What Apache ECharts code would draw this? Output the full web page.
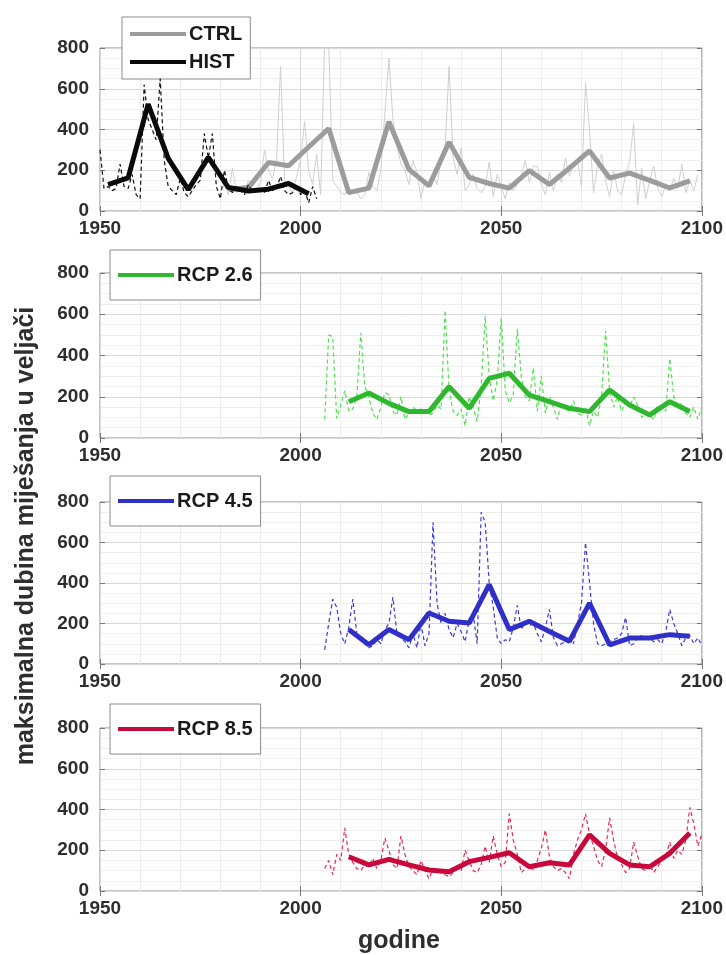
<!DOCTYPE html>
<html>
<head>
<meta charset="utf-8">
<script src="https://cdn.jsdelivr.net/npm/echarts@6/dist/echarts.min.js"></script>
<style>
html,body{margin:0;padding:0;background:#fff;}
#chart{width:726px;height:955px;}
</style>
</head>
<body>
<div id="chart"></div>
<script>
// ---------- DATA ----------
const xTicks = [1950, 2000, 2050, 2100];
const yTicks = [0, 200, 400, 600, 800];

// annual values (thin lines)
const histStart = 1950;
const histAnnual = [300,110,120,100,110,230,120,110,180,80,
  60,620,450,400,350,650,250,120,100,80,
  160,90,70,100,130,150,380,260,380,120,
  60,200,110,90,120,100,80,130,90,100,
  110,90,150,100,110,170,100,80,90,130,
  80,100,40,120,60];

const ctrlStart = 1980;
const ctrlAnnual = [100,130,80,210,90, 120,100,150,90,110,
  140,300,200,160,250, 710,150,120,90,170,
  250,440,200,130,280, 80,850,820,150,120,
  90,80,110,100,90, 60,80,190,120,100,
  200,480,750,450,320, 230,200,130,250,190,
  60,150,120,170,130, 250,310,710,260,180,
  310,100,130,180,110, 90,120,240,70,180,
  120,60,140,100,130, 170,250,140,220,220,
  130,80,190,100,180, 140,260,170,230,250,
  120,630,400,90,220, 280,150,70,200,100,
  80,180,240,430,30, 210,60,150,220,110,
  70,130,100,160,110, 230,90,150,100,180];

const rcpStart = 2006;
const rcp26Annual = [90,500,490,95,160, 230,130,140,200,510,
  250,200,120,90,150, 220,210,130,110,200,
  90,120,150,130,140, 130,110,120,160,140,
  620,230,130,110,140, 60,200,150,80,250,
  590,300,180,280,580, 230,170,210,530,300,
  200,180,340,130,300, 120,200,150,90,170,
  140,130,180,120,110, 150,60,130,100,200,
  520,230,150,200,130, 180,150,200,160,100,
  120,110,90,160,150, 130,385,200,150,170,
  120,100,150,90,150];
const rcp45Annual = [70,200,320,280,150, 100,180,320,150,130,
  100,80,90,120,100, 170,200,330,150,130,
  110,80,150,80,200, 90,150,700,300,200,
  250,170,130,200,160, 110,220,250,100,750,
  700,400,280,130,100, 120,110,180,290,170,
  210,190,200,150,110, 180,270,130,90,100,
  110,140,100,200,300, 600,400,200,100,90,
  100,110,120,130,150, 230,90,100,130,140,
  120,130,110,120,100, 160,270,200,150,90,
  130,140,100,130,90];
const rcp85Annual = [110,150,80,180,150, 310,180,140,110,100,
  130,120,160,110,150, 260,200,130,110,270,
  180,120,100,80,150, 100,60,110,100,90,
  80,70,90,110,100, 200,150,100,90,130,
  220,140,270,180,120, 140,380,250,180,90,
  110,130,100,150,210, 300,170,120,100,110,
  90,60,180,250,300, 380,280,220,150,120,
  200,360,250,160,130, 90,110,240,170,110,
  100,130,90,120,150, 170,240,160,200,180,
  250,410,330,220,280];

// 5-year means (thick lines)
const histMeanYears = [1952,1957,1962,1967,1972,1977,1982,1987,1992,1997,2002];
const histMean = [130,162,525,258,105,263,115,98,107,135,85];

const ctrlMeanYears = [1982,1987,1992,1997,2002,2007,2012,2017,2022,2027,2032,2037,
  2042,2047,2052,2057,2062,2067,2072,2077,2082,2087,2092,2097];
const ctrlMean = [105,115,238,222,314,405,90,112,438,204,123,338,
  165,135,112,198,130,210,295,162,186,150,113,148];

const rcpMeanYears = [2012,2017,2022,2027,2032,2037,2042,2047,2052,2057,2062,2067,
  2072,2077,2082,2087,2092,2097];
const rcp26Mean = [176,218,168,128,128,249,144,289,314,208,176,144,128,233,160,112,176,128];
const rcp45Mean = [170,95,170,120,252,211,202,392,170,211,161,112,301,95,128,128,145,137];
const rcp85Mean = [168,128,155,128,103,95,144,165,188,119,139,128,275,185,128,119,185,285];

// ---------- CHART ----------
const FONT = '"Liberation Sans", Arial, sans-serif';
const annual = (start, arr) => arr.map((v, i) => [start + i, v]);
const pairs = (xs, ys) => xs.map((x, i) => [x, ys[i]]);

const grids = [
  {left:100, width:602, top:48, height:163},
  {left:100, width:602, top:273, height:165},
  {left:100, width:602, top:502, height:162},
  {left:100, width:602, top:728, height:163}
];

const xAxes = [], yAxes = [];
grids.forEach((g, i) => {
  xAxes.push({
    type:'value', gridIndex:i, min:xTicks[0], max:xTicks[xTicks.length-1],
    interval:xTicks[1]-xTicks[0],
    axisLine:{show:false},
    axisTick:{show:true, inside:true, length:5, lineStyle:{color:'#777'}},
    axisLabel:{show:true, margin:8, fontFamily:FONT, fontWeight:'bold', fontSize:19, color:'#2e2e2e',
      showMinLabel:true, showMaxLabel:true, formatter: v => String(v)},
    splitLine:{show:true, lineStyle:{color:'#d9d9d9', width:1}},
    minorTick:{show:false, splitNumber:5},
    minorSplitLine:{show:true, lineStyle:{color:'#ececec', width:1}}
  });
  xAxes.push({
    type:'value', gridIndex:i, position:'top', min:xTicks[0], max:xTicks[xTicks.length-1],
    interval:xTicks[1]-xTicks[0],
    axisLine:{show:false}, axisLabel:{show:false}, splitLine:{show:false},
    axisTick:{show:true, inside:true, length:5, lineStyle:{color:'#777'}}
  });
  yAxes.push({
    type:'value', gridIndex:i, min:yTicks[0], max:yTicks[yTicks.length-1],
    interval:yTicks[1]-yTicks[0],
    axisLine:{show:false},
    axisTick:{show:true, inside:true, length:5, lineStyle:{color:'#777'}},
    axisLabel:{show:true, margin:11, fontFamily:FONT, fontWeight:'bold', fontSize:19, color:'#2e2e2e'},
    splitLine:{show:true, lineStyle:{color:'#d9d9d9', width:1}},
    minorTick:{show:false, splitNumber:4},
    minorSplitLine:{show:true, lineStyle:{color:'#efefef', width:1}}
  });
  yAxes.push({
    type:'value', gridIndex:i, position:'right', min:yTicks[0], max:yTicks[yTicks.length-1],
    interval:yTicks[1]-yTicks[0],
    axisLine:{show:false}, axisLabel:{show:false}, splitLine:{show:false},
    axisTick:{show:true, inside:true, length:5, lineStyle:{color:'#777'}}
  });
});

function line(name, panel, data, color, width, dashed, z) {
  return {
    name, type:'line', xAxisIndex:panel*2, yAxisIndex:panel*2, data,
    showSymbol:false, symbol:'none', color, z,
    lineStyle:{color, width, type: dashed ? [4,3] : 'solid'},
    emphasis:{disabled:true}, animation:false
  };
}

const series = [
  line('CTRL god.', 0, annual(ctrlStart, ctrlAnnual), '#cfcfcf', 1, false, 2),
  line('CTRL', 0, pairs(ctrlMeanYears, ctrlMean), '#9c9c9c', 5, false, 3),
  line('HIST god.', 0, annual(histStart, histAnnual), '#111111', 1.2, true, 4),
  line('HIST', 0, pairs(histMeanYears, histMean), '#0a0a0a', 5, false, 5),
  line('RCP 2.6 god.', 1, annual(rcpStart, rcp26Annual), '#4fe04f', 1.2, true, 2),
  line('RCP 2.6', 1, pairs(rcpMeanYears, rcp26Mean), '#2fb82f', 5, false, 3),
  line('RCP 4.5 god.', 2, annual(rcpStart, rcp45Annual), '#3a3ad6', 1.2, true, 2),
  line('RCP 4.5', 2, pairs(rcpMeanYears, rcp45Mean), '#3030c8', 5, false, 3),
  line('RCP 8.5 god.', 3, annual(rcpStart, rcp85Annual), '#e8284f', 1.2, true, 2),
  line('RCP 8.5', 3, pairs(rcpMeanYears, rcp85Mean), '#c8073a', 5, false, 3)
];

const legendBase = {
  icon:'rect', itemWidth:56, itemHeight:4, backgroundColor:'#fff',
  borderColor:'#8a8a8a', borderWidth:1, selectedMode:false,
  textStyle:{fontFamily:FONT, fontWeight:'bold', fontSize:20, color:'#1a1a1a', padding:[0,0,0,-2]}
};

const legends = [
  Object.assign({}, legendBase, {data:['CTRL','HIST'], orient:'vertical', left:122, top:17,
    padding:[7,8,7,8], itemGap:8}),
  Object.assign({}, legendBase, {data:['RCP 2.6'], left:110, top:250, padding:[15,8,15,8]}),
  Object.assign({}, legendBase, {data:['RCP 4.5'], left:110, top:476, padding:[15,8,15,8]}),
  Object.assign({}, legendBase, {data:['RCP 8.5'], left:110, top:704, padding:[15,8,15,8]})
];

const chart = echarts.init(document.getElementById('chart'), null, {renderer:'canvas'});
chart.setOption({
  animation:false,
  backgroundColor:'#ffffff',
  grid: grids.map(g => Object.assign({show:true, borderColor:'#8c8c8c', borderWidth:1, backgroundColor:'transparent'}, g)),
  xAxis:xAxes,
  yAxis:yAxes,
  legend:legends,
  series,
  graphic:[
    {type:'text', x:26, y:536, rotation:Math.PI/2,
      style:{text:'maksimalna dubina miješanja u veljači', font:'bold 25px "Liberation Sans", Arial, sans-serif',
        fill:'#2e2e2e', textAlign:'center', textVerticalAlign:'middle'}},
    {type:'text', x:399, y:941,
      style:{text:'godine', font:'bold 25px "Liberation Sans", Arial, sans-serif',
        fill:'#2e2e2e', textAlign:'center', textVerticalAlign:'middle'}}
  ]
});
</script>
</body>
</html>
